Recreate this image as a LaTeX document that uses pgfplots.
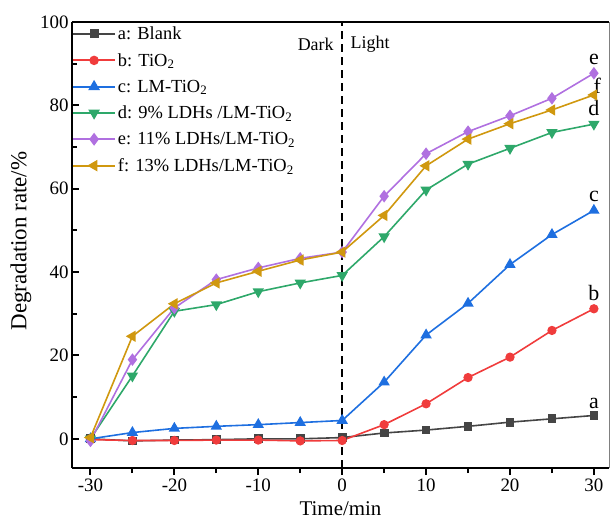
\documentclass[border=0pt]{standalone}
\usepackage{fontspec}
\setmainfont{Liberation Serif}
\usepackage{pgfplots}
\pgfplotsset{compat=1.18}
\definecolor{cA}{HTML}{454545}
\definecolor{cB}{HTML}{F03C3C}
\definecolor{cC}{HTML}{1E6FE0}
\definecolor{cD}{HTML}{2EA86A}
\definecolor{cE}{HTML}{B070E0}
\definecolor{cF}{HTML}{D0980F}
\begin{document}
\begin{tikzpicture}
\begin{axis}[
  scale only axis, width=537bp, height=446bp,
  xmin=-32.2, xmax=31.8, ymin=-7, ymax=100,
  axis x line*=bottom, axis y line*=left,
  axis line style={line width=2.2bp},
  xtick={-30,-20,...,30}, minor xtick={-25,-15,...,25},
  ytick={0,20,...,100}, minor ytick={10,30,...,90},
  xtick align=outside, ytick align=inside,
  major tick length=7bp, minor tick length=5bp,
  every tick/.style={line width=2bp, black},
  tick label style={font=\fontsize{19}{21}\selectfont},
  /pgf/number format/assume math mode=true,
  xlabel={Time/min}, ylabel={Degradation rate/\%},
  xlabel style={font=\fontsize{21}{23}\selectfont, yshift=-4bp},
  ylabel style={font=\fontsize{23}{25}\selectfont, yshift=2bp, xshift=4bp},
  every axis plot/.append style={line width=1.6bp},
  legend style={at={(0,1)}, anchor=north west, draw=none, fill=none,
    font=\fontsize{18.5}{20}\selectfont, row sep=8.3bp, inner xsep=0bp, inner ysep=2.5bp,
    cells={anchor=west}},
  legend image code/.code={\draw[line width=1.8bp, mark repeat=2,mark phase=2] plot coordinates {(0bp,0bp)(21bp,0bp)(42bp,0bp)};},
  clip=false,
]
\addplot[cA, mark=square*, mark size=3.6bp] coordinates {
(-30,0) (-25,-0.5) (-20,-0.3) (-15,-0.2) (-10,0) (-5,0) (0,0.3)
(5,1.4) (10,2.1) (15,3.0) (20,4.0) (25,4.8) (30,5.6)};
\addlegendentry{a: Blank}
\addplot[cB, mark=*, mark size=3.8bp] coordinates {
(-30,-0.2) (-25,-0.4) (-20,-0.4) (-15,-0.3) (-10,-0.3) (-5,-0.5) (0,-0.4)
(5,3.4) (10,8.4) (15,14.7) (20,19.6) (25,26.0) (30,31.2)};
\addlegendentry{b: TiO\textsubscript{2}}
\addplot[cC, mark=triangle*, mark size=5bp] coordinates {
(-30,0) (-25,1.5) (-20,2.5) (-15,3.0) (-10,3.4) (-5,3.9) (0,4.4)
(5,13.6) (10,24.9) (15,32.5) (20,41.8) (25,49.0) (30,54.8)};
\addlegendentry{c: LM-TiO\textsubscript{2}}
\addplot[cD, mark=triangle*, mark size=5bp, mark options={rotate=180}] coordinates {
(-30,0) (-25,15.1) (-20,30.6) (-15,32.2) (-10,35.3) (-5,37.4) (0,39.2)
(5,48.5) (10,59.7) (15,65.9) (20,69.7) (25,73.5) (30,75.5)};
\addlegendentry{d: 9\% LDHs /LM-TiO\textsubscript{2}}
\addplot[cE, mark=diamond*, mark size=5bp] coordinates {
(-30,-0.5) (-25,19.0) (-20,31.4) (-15,38.2) (-10,41.0) (-5,43.3) (0,44.8)
(5,58.2) (10,68.4) (15,73.7) (20,77.5) (25,81.7) (30,87.7)};
\addlegendentry{e: 11\% LDHs/LM-TiO\textsubscript{2}}
\addplot[cF, mark=triangle*, mark size=5bp, mark options={rotate=90}] coordinates {
(-30,0.3) (-25,24.6) (-20,32.4) (-15,37.4) (-10,40.2) (-5,42.9) (0,44.8)
(5,53.6) (10,65.5) (15,71.9) (20,75.6) (25,78.9) (30,82.5)};
\addlegendentry{f: 13\% LDHs/LM-TiO\textsubscript{2}}
\addplot[black, dashed, line width=1.4bp, dash pattern=on 8bp off 5bp, forget plot] coordinates {(0,-7) (0,100)};
\draw[line width=2.2bp] (rel axis cs:0,1) -- (rel axis cs:1,1);
\draw[gray, line width=0.9bp] (rel axis cs:1,0) -- (rel axis cs:1,1);
\node[font=\fontsize{18}{20}\selectfont, anchor=east] at (axis cs:-0.6,94.6) {Dark};
\node[font=\fontsize{18}{20}\selectfont, anchor=west] at (axis cs:0.6,94.6) {Light};
\begin{scope}[every node/.style={font=\fontsize{22}{24}\selectfont, anchor=south}]
\node at (axis cs:30,6.3) {a};
\node at (axis cs:30,32.3) {b};
\node at (axis cs:30,56) {c};
\node at (axis cs:30,76.6) {d};
\node at (axis cs:30,88.8) {e};
\node at (axis cs:30.4,82.0) {f};
\end{scope}
\coordinate (sw) at (rel axis cs:0,0);
\coordinate (ne) at (rel axis cs:1,1);
\end{axis}
\pgfresetboundingbox
\path[use as bounding box] ([shift={(-72bp,-55bp)}]sw) rectangle ([shift={(2bp,22bp)}]ne);
\end{tikzpicture}
\end{document}
